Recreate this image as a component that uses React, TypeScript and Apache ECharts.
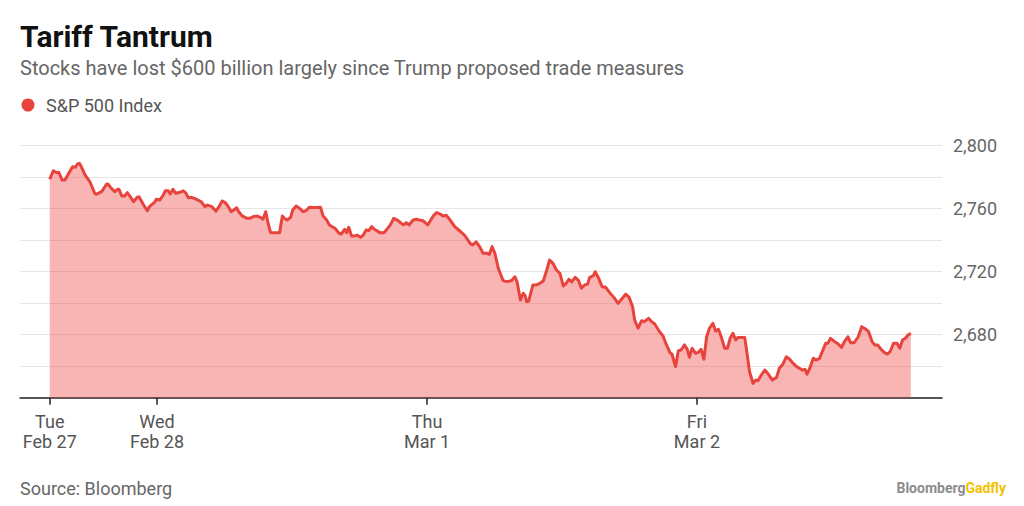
import { useEffect, useRef } from "react";
import * as echarts from "echarts";

// Trading minutes elapsed since Tue Feb 27 09:30 (390 trading minutes per session)
const tueMinutes = [235,240,245,248,253,257,261,268,272,275,278,281,286,293,300,302,310,317,319,324,329,333,335,339,343,347,352,356,361,364,368,372,376,379,387,389];
const tuePrices = [2778.7,2784.1,2782.9,2783.1,2778.2,2778.2,2781.4,2786.7,2786.3,2788.4,2788.8,2786.3,2781.4,2777.1,2769.8,2769.1,2770.8,2775.5,2775.7,2772.9,2770.8,2772.3,2772.3,2768.1,2768.1,2770.2,2767.2,2764.4,2767.2,2767.6,2764.4,2761.3,2758.7,2761.3,2764.4,2766.0];

const wedMinutes = [394,399,402,406,409,413,417,423,428,432,435,440,444,449,454,459,463,469,475,480,484,488,493,497,501,505,508,513,520,524,529,534,539,543,547,550,554,567,571,574,578,583,586,591,596,601,605,610,615,620,626,630,635,639,647,653,656,661,664,667,671,676,679,684,688,692,696,700,704,712,718,722,727,732,737,743,746,750,754,760,765,769,774];
const wedPrices = [2765.5,2768.7,2771.4,2771.4,2769.3,2772.3,2769.8,2770.4,2771.4,2769.8,2767.0,2767.2,2766.6,2765.5,2764.4,2761.3,2762.3,2761.3,2758.5,2761.7,2764.9,2764.1,2761.3,2758.1,2759.2,2760.6,2758.1,2755.4,2753.9,2753.9,2754.9,2755.4,2754.5,2753.3,2758.1,2751.7,2744.8,2744.8,2755.4,2753.9,2752.8,2754.5,2759.2,2761.7,2760.2,2758.1,2758.7,2760.9,2760.7,2760.7,2760.9,2755.4,2752.8,2749.7,2747.6,2744.4,2743.9,2746.9,2744.8,2748.2,2742.7,2742.7,2743.3,2741.8,2743.3,2746.5,2746.1,2748.6,2746.9,2744.8,2744.8,2746.9,2749.7,2753.9,2752.8,2750.7,2749.7,2751.1,2749.7,2752.8,2753.3,2752.8,2752.4];

const thuMinutes = [781,789,794,799,803,808,813,820,827,834,843,846,851,856,861,867,870,874,878,883,890,895,902,907,910,915,919,922,924,927,933,938,943,948,953,957,962,967,972,977,981,985,989,994,999,1003,1008,1012,1015,1020,1023,1028,1033,1038,1044,1050,1056,1061,1067,1072,1077,1080,1085,1090,1094,1100,1104,1109,1116,1121,1126,1131,1134,1139,1143,1147,1152,1156,1159,1163,1168];
const thuPrices = [2749.7,2755.4,2757.5,2756.6,2755.4,2755.8,2753.0,2748.6,2746.0,2743.3,2737.6,2737.0,2739.0,2735.9,2731.7,2731.7,2731.0,2735.9,2731.7,2722.2,2714.3,2713.7,2714.3,2716.8,2713.7,2702.0,2706.3,2704.6,2701.0,2701.4,2711.6,2711.6,2712.6,2714.1,2721.1,2727.4,2725.3,2721.1,2719.0,2710.9,2712.6,2715.2,2713.5,2716.4,2714.3,2709.5,2711.6,2712.2,2716.4,2717.3,2720.0,2715.8,2710.5,2710.1,2706.7,2703.7,2699.9,2702.5,2705.8,2703.7,2697.8,2689.3,2684.1,2688.9,2688.3,2690.4,2688.5,2686.8,2681.9,2679.2,2673.5,2668.6,2667.6,2659.7,2669.7,2670.3,2673.5,2670.7,2665.7,2671.4,2668.2];

const friMinutes = [1172,1176,1180,1184,1188,1193,1197,1201,1205,1210,1214,1218,1222,1226,1229,1239,1241,1246,1251,1255,1258,1263,1268,1273,1279,1285,1289,1294,1299,1304,1309,1314,1318,1322,1326,1329,1333,1338,1342,1347,1352,1356,1359,1363,1369,1374,1379,1383,1388,1392,1397,1403,1408,1414,1418,1423,1427,1431,1436,1441,1445,1449,1454,1459,1463,1467,1471,1475,1479];
const friPrices = [2668.8,2670.7,2664.4,2678.7,2684.1,2687.2,2682.3,2683.4,2678.7,2671.4,2671.4,2677.7,2680.9,2676.6,2678.3,2678.3,2672.4,2656.5,2649.1,2651.2,2650.8,2654.4,2657.6,2655.0,2651.2,2652.9,2658.7,2661.2,2666.0,2664.4,2661.8,2659.7,2658.7,2657.6,2658.0,2655.0,2658.7,2665.0,2663.9,2665.0,2670.3,2674.5,2674.5,2677.7,2675.6,2674.1,2672.0,2675.6,2678.7,2674.9,2674.9,2678.7,2685.1,2683.4,2681.9,2675.6,2673.5,2673.5,2670.7,2668.6,2667.7,2669.2,2674.5,2674.5,2671.4,2676.6,2677.7,2679.8,2680.9];

const dayTicks = [235, 390, 780, 1170];
const dayLabels = ["Tue\nFeb 27", "Wed\nFeb 28", "Thu\nMar 1", "Fri\nMar 2"];
const yLabelValues = [2680, 2720, 2760, 2800];

const TITLE = "Tariff Tantrum";
const SUBTITLE = "Stocks have lost $600 billion largely since Trump proposed trade measures";
const SERIES_NAME = "S&P 500 Index";
const SOURCE = "Source: Bloomberg";

const RED = "#e8433c";
const FONT = "Roboto, 'Noto Sans', sans-serif";

export default function App() {
  const ref = useRef<HTMLDivElement>(null);
  useEffect(() => {
    const chart = echarts.init(ref.current!, null, { renderer: "svg" });
    const minutes = [...tueMinutes, ...wedMinutes, ...thuMinutes, ...friMinutes];
    const prices = [...tuePrices, ...wedPrices, ...thuPrices, ...friPrices];
    const data = minutes.map((m, i) => [m, prices[i]]);
    chart.setOption({
      animation: false,
      backgroundColor: "#ffffff",
      textStyle: { fontFamily: FONT },
      grid: { left: 20, right: 82, top: 145.7, bottom: 108.3, containLabel: false },
      xAxis: {
        type: "value",
        min: 192,
        max: 1524,
        axisLine: { show: true, lineStyle: { color: "#222", width: 1.5 } },
        axisTick: { show: true, customValues: dayTicks, length: 7, lineStyle: { color: "#222", width: 1.5 } },
        axisLabel: {
          customValues: dayTicks,
          formatter: (v: number) => dayLabels[dayTicks.indexOf(v)] ?? "",
          color: "#555",
          fontSize: 18,
          lineHeight: 20,
          margin: 14,
          fontFamily: FONT,
        },
        splitLine: { show: false },
      },
      yAxis: {
        type: "value",
        position: "right",
        min: 2640,
        max: 2800,
        interval: 20,
        axisLine: { show: false },
        axisTick: { show: false },
        axisLabel: {
          customValues: yLabelValues,
          formatter: (v: number) => v.toLocaleString("en-US"),
          color: "#666",
          fontSize: 18,
          margin: 11,
          fontFamily: FONT,
        },
        splitLine: { show: true, lineStyle: { color: "#e6e6e6", width: 1.2 } },
      },
      series: [
        {
          name: SERIES_NAME,
          type: "line",
          data,
          symbol: "none",
          lineStyle: { color: RED, width: 3, join: "round" },
          itemStyle: { color: RED },
          areaStyle: { color: "rgb(240,64,58)", opacity: 0.39, origin: "start" },
        },
      ],
      graphic: [
        { type: "text", x: 20, y: 36, style: { text: TITLE, font: `bold 30px ${FONT}`, fill: "#111", textVerticalAlign: "middle" } },
        { type: "text", x: 20, y: 68, style: { text: SUBTITLE, font: `20px ${FONT}`, fill: "#666", textVerticalAlign: "middle" } },
        { type: "circle", shape: { cx: 28, cy: 105, r: 6.5 }, style: { fill: RED } },
        { type: "text", x: 46, y: 105, style: { text: SERIES_NAME, font: `18px ${FONT}`, fill: "#555", textVerticalAlign: "middle" } },
        { type: "text", x: 20, y: 488, style: { text: SOURCE, font: `18px ${FONT}`, fill: "#666", textVerticalAlign: "middle" } },
        {
          type: "text",
          x: 1006,
          y: 488,
          style: {
            text: "{a|Bloomberg}{b|Gadfly}",
            align: "right",
            verticalAlign: "middle",
            rich: {
              a: { fontSize: 14, fontWeight: "bold", fill: "#8c8c8c", fontFamily: FONT },
              b: { fontSize: 14, fontWeight: "bold", fill: "#f2c200", fontFamily: FONT },
            },
          },
        },
      ],
    });
    return () => chart.dispose();
  }, []);
  return (
    <div
      ref={ref}
      style={{ position: "fixed", left: 0, top: 0, width: 1024, height: 506, background: "#fff" }}
    />
  );
}
